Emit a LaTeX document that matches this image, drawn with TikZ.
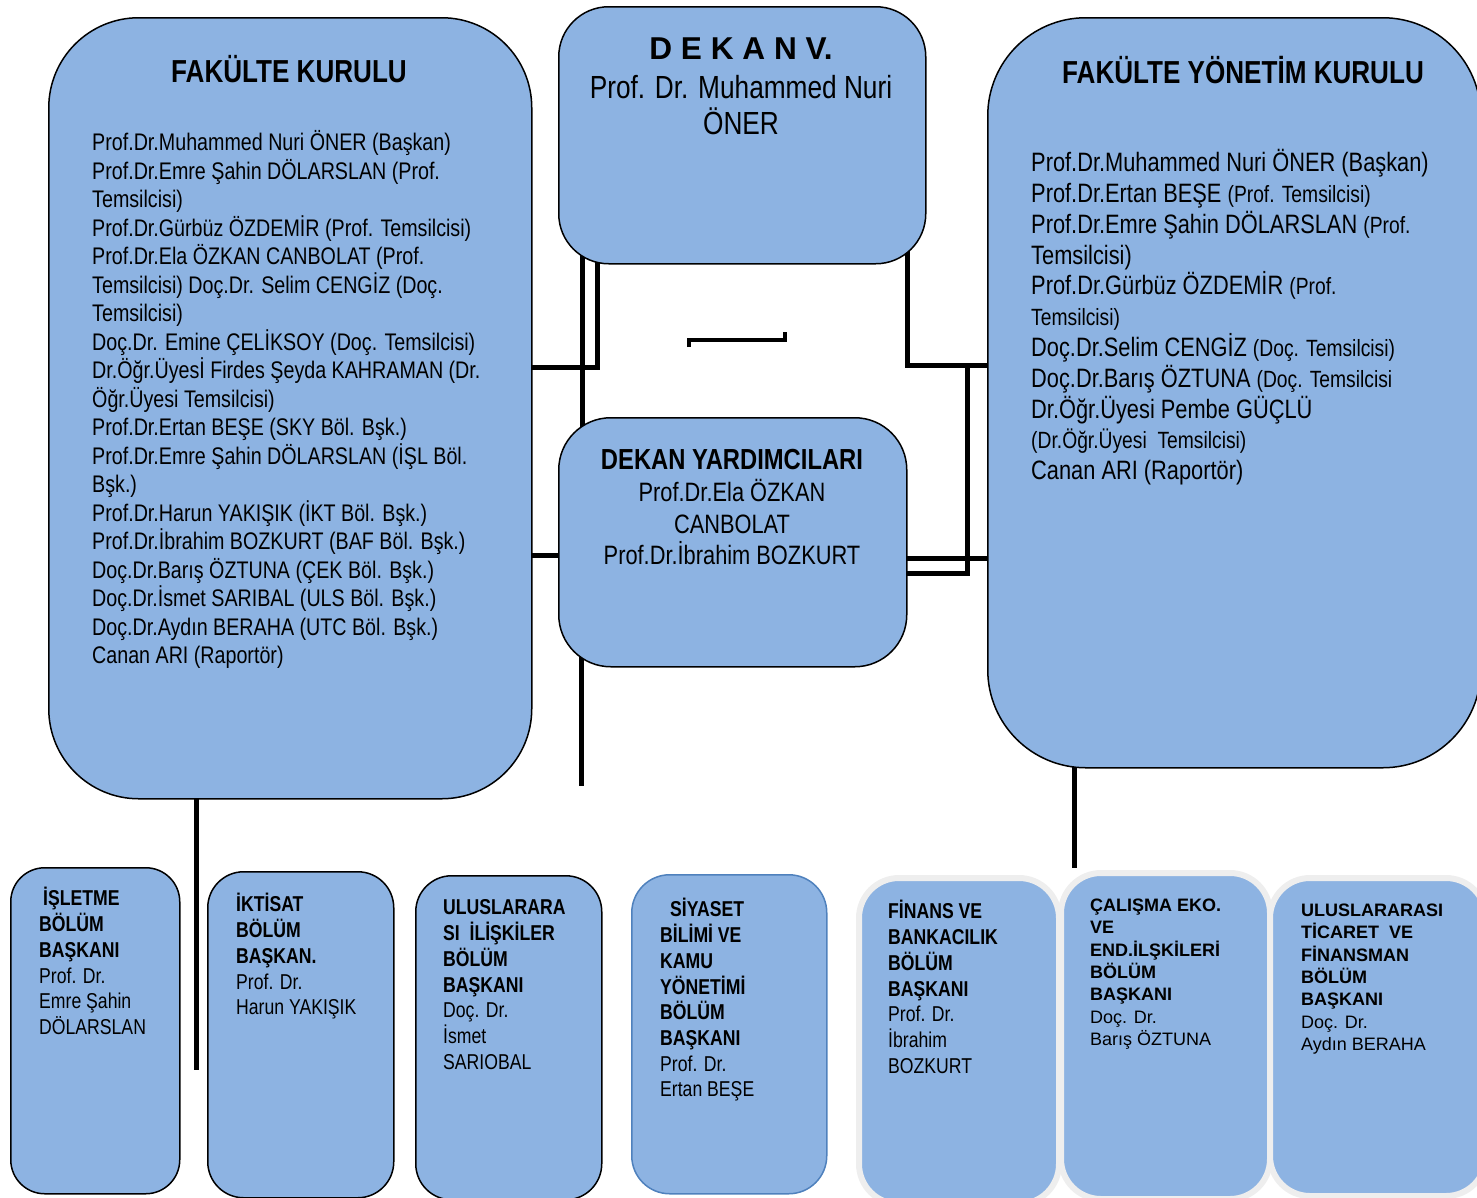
\documentclass[tikz,border=0pt]{standalone}
\usepackage{fontspec}
\setmainfont{Liberation Sans}
\newfontfamily\nar[FakeStretch=0.82]{Liberation Sans}
\usetikzlibrary{calc}
\pgfdeclarelayer{bg}
\pgfsetlayers{bg,main}
\definecolor{boxblue}{HTML}{8DB3E2}
\definecolor{edgeblue}{HTML}{4F81BD}
\definecolor{halocol}{HTML}{EEEEEE}
\newcommand{\fs}[2]{\fontsize{#1}{#2}\selectfont}
\newcommand{\tp}{\rule{0pt}{1em}}
\newcommand{\sm}[1]{{\fontsize{23.5}{30.8}\selectfont #1}}
\begin{document}
\begin{tikzpicture}[x=1pt,y=-1pt,
  box/.style={draw=black, line width=1.5pt, fill=boxblue, inner sep=0pt, anchor=north west},
  bluebox/.style={box, draw=edgeblue},
  halobox/.style={box, draw=halocol, line width=6pt},
  conn/.style={draw=black, line width=5pt},
  bracketline/.style={draw=black, line width=4pt},
  txt/.style={inner sep=0pt, text=black},
  btxt/.style={txt, anchor=north west, align=left, font=\nar\fs{21.5}{25.7}},
  ctxt/.style={txt, anchor=north west, align=left, font=\fs{18}{22.3}}]
\useasboundingbox (0,0) rectangle (1477,1197);

% main boxes
\node[box, minimum width=483pt, minimum height=781pt, rounded corners=90pt] (fk) at (48,17) {};
\node[box, minimum width=367pt, minimum height=257pt, rounded corners=50pt] (dek) at (558,6) {};
\node[box, minimum width=348pt, minimum height=249pt, rounded corners=52pt] (dy) at (558,417) {};
\node[box, minimum width=493pt, minimum height=750pt, rounded corners=98pt] (fyk) at (987,17) {};

% bottom boxes
\node[box, minimum width=169pt, minimum height=326pt, rounded corners=34pt] (b1) at (10,867) {};
\node[box, minimum width=186pt, minimum height=326pt, rounded corners=36pt] (b2) at (207,871) {};
\node[box, minimum width=186pt, minimum height=324pt, rounded corners=36pt] (b3) at (415,875) {};
\node[bluebox, minimum width=195pt, minimum height=319pt, rounded corners=38pt] (b4) at (631,874) {};
\node[halobox, minimum width=200pt, minimum height=326pt, rounded corners=40pt] (b5) at (856,875) {};
\node[halobox, minimum width=209pt, minimum height=326pt, rounded corners=40pt] (b6) at (1058,870) {};
\node[halobox, minimum width=216pt, minimum height=318pt, rounded corners=40pt] (b7) at (1267,875) {};

% connectors
\begin{pgfonlayer}{bg}
\coordinate (fkEnd) at (196,1070);
\coordinate (dyEnd) at (581,786);
\coordinate (fykEnd) at (1074,868);
\coordinate (lA) at (597,367);
\coordinate (lB) at (582,400);
\coordinate (lC) at (545,555);
\coordinate (rA) at (907,365);
\coordinate (rB) at (967,573);
\coordinate (rC) at (950,558);
\draw[conn] (fk.center -| fkEnd) -- (fkEnd);
\draw[conn] (dy.center -| dyEnd) -- (dyEnd);
\draw[conn] (fyk.center -| fykEnd) -- (fykEnd);
\draw[conn] (fk.center |- lA) -- (lA) -- (dek.center -| lA);
\draw[conn] (dek.center -| lB) -- (dy.center -| lB);
\draw[conn] (fk.center |- lC) -- (dy.center |- lC);
\draw[conn] (dek.center -| rA) -- (rA) -- (fyk.center |- rA);
\draw[conn] (dy.center |- rB) -- (rB) -- ([yshift=-2.5pt]rB |- rA);
\draw[conn] (dy.center |- rC) -- (fyk.center |- rC);
\end{pgfonlayer}

% free bracket
\coordinate (bL) at (689,347);
\coordinate (bR) at (785,332);
\coordinate (bM) at (737,340);
\draw[bracketline] (bL) -- (bL |- bM) -- (bR |- bM) -- (bR);

% FAKULTE KURULU
\node[txt, anchor=base, font=\nar\bfseries\fs{31.8}{36}] (fkt) at (289,82) {FAKÜLTE KURULU};
\node[txt, anchor=north west, align=left, font=\nar\fs{24}{28.5}] (fkb) at (92,126.6) {\tp Prof.Dr.Muhammed Nuri ÖNER (Başkan)\\
Prof.Dr.Emre Şahin DÖLARSLAN (Prof.\\
Temsilcisi)\\
Prof.Dr.Gürbüz ÖZDEMİR (Prof. Temsilcisi)\\
Prof.Dr.Ela ÖZKAN CANBOLAT (Prof.\\
Temsilcisi) Doç.Dr. Selim CENGİZ (Doç.\\
Temsilcisi)\\
Doç.Dr. Emine ÇELİKSOY (Doç. Temsilcisi)\\
Dr.Öğr.Üyesİ Firdes Şeyda KAHRAMAN (Dr.\\
Öğr.Üyesi Temsilcisi)\\
Prof.Dr.Ertan BEŞE (SKY Böl. Bşk.)\\
Prof.Dr.Emre Şahin DÖLARSLAN (İŞL Böl.\\
Bşk.)\\
Prof.Dr.Harun YAKIŞIK (İKT Böl. Bşk.)\\
Prof.Dr.İbrahim BOZKURT (BAF Böl. Bşk.)\\
Doç.Dr.Barış ÖZTUNA (ÇEK Böl. Bşk.)\\
Doç.Dr.İsmet SARIBAL (ULS Böl. Bşk.)\\
Doç.Dr.Aydın BERAHA (UTC Böl. Bşk.)\\
Canan ARI (Raportör)};

% DEKAN V.
\node[txt, anchor=base, font=\bfseries\fs{31.6}{36}] (dkt) at (741,59) {D E K A N V.};
\node[txt, anchor=north, align=center, font=\nar\fs{32}{36}] (dkb) at (741,66.5) {\tp Prof. Dr. Muhammed Nuri\\ÖNER};

% DEKAN YARDIMCILARI
\node[txt, anchor=base, font=\nar\bfseries\fs{29}{31}] (dyt) at (732,469.4) {DEKAN YARDIMCILARI};
\node[txt, anchor=north, align=center, font=\nar\fs{26.6}{31.5}] (dyb) at (732,474.9) {\tp Prof.Dr.Ela ÖZKAN\\CANBOLAT\\Prof.Dr.İbrahim BOZKURT};

% FAKULTE YONETIM KURULU
\node[txt, anchor=base, font=\nar\bfseries\fs{31.8}{36}] (fykt) at (1243,83.4) {FAKÜLTE YÖNETİM KURULU};
\node[txt, anchor=north west, align=left, font=\nar\fs{26.6}{30.8}] (fykb) at (1031,144.9) {\tp Prof.Dr.Muhammed Nuri ÖNER (Başkan)\\
Prof.Dr.Ertan BEŞE \sm{(Prof. Temsilcisi)}\\
Prof.Dr.Emre Şahin DÖLARSLAN \sm{(Prof.}\\
Temsilcisi)\\
Prof.Dr.Gürbüz ÖZDEMİR \sm{(Prof.}\\
\sm{Temsilcisi)}\\
Doç.Dr.Selim CENGİZ \sm{(Doç. Temsilcisi)}\\
Doç.Dr.Barış ÖZTUNA \sm{(Doç. Temsilcisi}\\
Dr.Öğr.Üyesi Pembe GÜÇLÜ\\
\sm{(Dr.Öğr.Üyesi~~Temsilcisi)}\\
Canan ARI (Raportör)};

% bottom texts
\node[btxt] (t1) at (39,884.2) {\tp\textbf{\hspace*{4pt}İŞLETME}\\\textbf{BÖLÜM}\\\textbf{BAŞKANI}\\Prof. Dr.\\Emre Şahin\\DÖLARSLAN};
\node[btxt] (t2) at (236,890.2) {\tp\textbf{İKTİSAT}\\\textbf{BÖLÜM}\\\textbf{BAŞKAN.}\\Prof. Dr.\\Harun YAKIŞIK};
\node[btxt] (t3) at (443,893.2) {\tp\textbf{ULUSLARARA}\\\textbf{SI~~İLİŞKİLER}\\\textbf{BÖLÜM}\\\textbf{BAŞKANI}\\Doç. Dr.\\İsmet\\SARIOBAL};
\node[btxt] (t4) at (660,895.2) {\tp\textbf{\hspace*{10pt}SİYASET}\\\textbf{BİLİMİ VE}\\\textbf{KAMU}\\\textbf{YÖNETİMİ}\\\textbf{BÖLÜM}\\\textbf{BAŞKANI}\\Prof. Dr.\\Ertan BEŞE};
\node[btxt] (t5) at (888,897.2) {\tp\textbf{FİNANS VE}\\\textbf{BANKACILIK}\\\textbf{BÖLÜM}\\\textbf{BAŞKANI}\\Prof. Dr.\\İbrahim\\BOZKURT};
\node[ctxt] (t6) at (1090,893.4) {\tp\textbf{ÇALIŞMA EKO.}\\\textbf{VE}\\\textbf{END.İLŞKİLERİ}\\\textbf{BÖLÜM}\\\textbf{BAŞKANI}\\Doç. Dr.\\Barış ÖZTUNA};
\node[ctxt] (t7) at (1301,898.4) {\tp\textbf{ULUSLARARASI}\\\textbf{TİCARET~~VE}\\\textbf{FİNANSMAN}\\\textbf{BÖLÜM}\\\textbf{BAŞKANI}\\Doç. Dr.\\Aydın BERAHA};
\end{tikzpicture}
\end{document}
